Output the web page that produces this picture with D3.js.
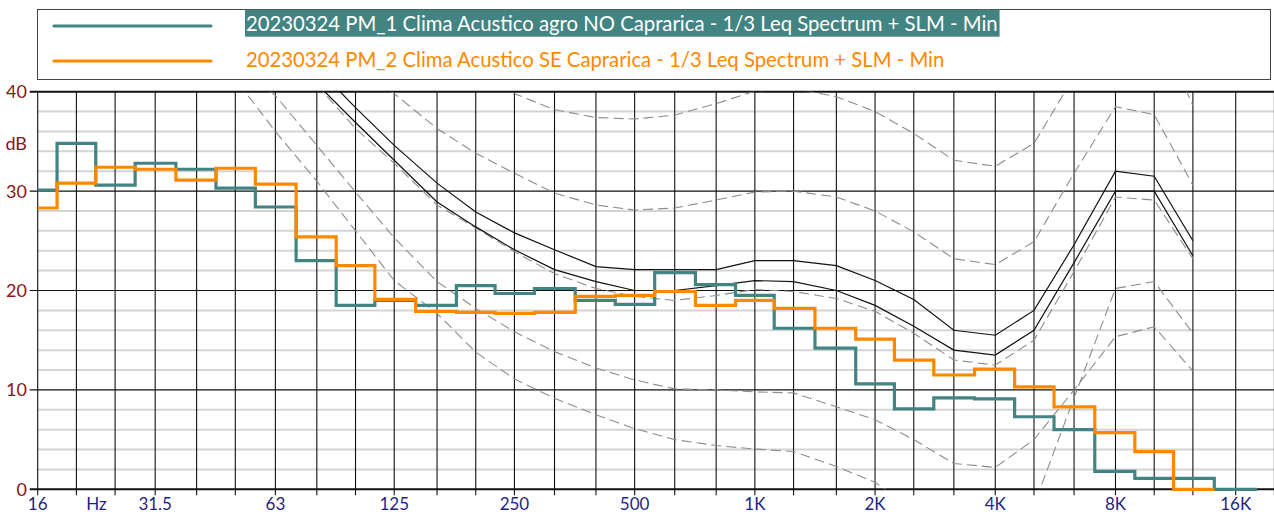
<!DOCTYPE html>
<html>
<head>
<meta charset="utf-8">
<script src="https://cdn.jsdelivr.net/npm/d3@7"></script>
<style>
  body { margin: 0; background: #fff; }
  svg { display: block; }
</style>
</head>
<body>
<div id="viz"></div>
<script>
// third octave bands, 16 Hz .. 16 kHz
const bands = [16, 20, 25, 31.5, 40, 50, 63, 80, 100, 125, 160, 200, 250, 315, 400, 500, 630, 800,
  1000, 1250, 1600, 2000, 2500, 3150, 4000, 5000, 6300, 8000, 10000, 12500, 16000];
const tickFreqs = [16, 31.5, 63, 125, 250, 500, 1000, 2000, 4000, 8000, 16000];
const tickLabels = ["16", "31.5", "63", "125", "250", "500", "1K", "2K", "4K", "8K", "16K"];
const yTicks = [0, 10, 20, 30, 40];
const seriesNames = [
  "20230324 PM_1 Clima Acustico agro NO Caprarica - 1/3 Leq Spectrum + SLM - Min",
  "20230324 PM_2 Clima Acustico SE Caprarica - 1/3 Leq Spectrum + SLM - Min"
];

// measured spectra (dB)
const pm1 = [30.1, 34.8, 30.6, 32.8, 32.2, 30.3, 28.4, 23.0, 18.5, 19.0, 18.5, 20.5, 19.7, 20.2, 19.0, 18.6,
  21.8, 20.6, 19.5, 16.2, 14.2, 10.6, 8.1, 9.2, 9.1, 7.3, 6.0, 1.8, 1.1, 1.1, -1];
const pm2 = [28.3, 30.8, 32.4, 32.2, 31.1, 32.3, 30.7, 25.4, 22.5, 19.1, 17.9, 17.8, 17.7, 17.8, 19.4, 19.5,
  19.9, 18.5, 19.0, 18.2, 16.2, 15.1, 13.0, 11.5, 12.1, 10.3, 8.3, 5.7, 3.8, -1, null];

// reference curves
const refSolid1 = [null, null, null, null, null, null, 47, 42.4, 38.4, 34.6, 30.8, 27.9, 25.8, 24.1, 22.4, 22.1,
  22.1, 22.1, 23.0, 23.0, 22.5, 21.0, 19.1, 16.0, 15.5, 18.0, 24.6, 32.0, 31.5, 25.0, null];
const refSolid2 = [null, null, null, null, null, null, 45, 40.8, 36.9, 33.1, 28.9, 26.4, 24.1, 22.1, 20.9, 20.0,
  20.0, 20.5, 21.0, 20.9, 20.0, 18.5, 16.4, 14.0, 13.5, 16.0, 22.8, 30.0, 30.0, 23.5, null];
const refDash1 = [null, null, null, null, null, null, null, null, null, null, null, 42.5, 39.8, 38.2, 37.4, 37.25,
  37.65, 38.8, 40.05, 40.3, 39.5, 38.0, 35.8, 33.1, 32.5, 34.8, 41.5, 48, 47.5, 38.6, null];
const refDash2 = [null, null, null, null, null, null, null, null, 43, 39.8, 36.3, 33.8, 31.8, 29.8, 28.6, 28.1,
  28.3, 29.1, 29.9, 30.0, 29.4, 28.0, 25.9, 23.2, 22.6, 24.9, 31.8, 38.5, 37.7, 30.6, null];
const refDash3 = [null, null, null, null, null, null, 45, 40.7, 36.3, 32.8, 28.6, 26.3, 23.9, 21.7, 20.2, 19.4,
  19.0, 19.5, 20.1, 19.9, 19.2, 17.9, 15.7, 13.0, 12.5, 15.0, 21.9, 29.4, 29.1, 23.2, null];
const refDash4 = [null, null, null, null, 47, 41.3, 36.0, 31.0, 26.0, 21.0, 17.7, 13.8, 11.1, 9.15, 7.5, 6.1,
  5.0, 4.4, 4.05, 3.8, 2.3, 0.7, -2, -5, -6, -1.6, 9.2, 20.2, 20.9, 15.7, null];
const refDash5 = [null, null, null, null, null, 43, 39.6, 34.6, 29.9, 25.3, 20.9, 18.2, 15.85, 13.85, 12.2, 11.0,
  10.1, 10.0, 9.8, 9.7, 8.3, 7.0, 5.0, 2.6, 2.2, 5.0, 10.0, 15.35, 16.35, 11.9, null];

const width = 1274, height = 515;
const plotL = 37.7, plotR = 1274, plotT = 91.7, plotB = 489.3;
const teal = "#428482", orange = "#ff8800";
const font = "Lato, 'Open Sans', sans-serif";

const svg = d3.select("#viz").append("svg")
  .attr("width", width)
  .attr("height", height);

const x = d3.scaleLog().domain([16, 16000]).range([plotL, 1235.7]);
const y = d3.scaleLinear().domain([0, 40]).range([plotB, plotT]).clamp(true);
const yFree = d3.scaleLinear().domain([0, 40]).range([plotB, plotT]);

svg.append("clipPath").attr("id", "plotclip")
  .append("rect")
  .attr("x", plotL).attr("y", plotT)
  .attr("width", plotR - plotL).attr("height", plotB - plotT);
svg.append("clipPath").attr("id", "stepclip")
  .append("rect")
  .attr("x", plotL).attr("y", plotT - 2)
  .attr("width", plotR - plotL).attr("height", plotB - plotT + 4);

// horizontal grid
let minor = d3.range(2, 40, 2).filter((d) => d % 10 !== 0);
svg.append("g").selectAll("line")
  .data(minor)
  .join("line")
  .attr("x1", plotL).attr("x2", plotR)
  .attr("y1", (d) => y(d)).attr("y2", (d) => y(d))
  .attr("stroke", "#d4d4d4")
  .attr("stroke-width", 2);

// vertical grid (also tick marks below the axis)
let gridFreqs = bands.concat([20000]);
svg.append("g").selectAll("line")
  .data(gridFreqs)
  .join("line")
  .attr("x1", (d) => x(d)).attr("x2", (d) => x(d))
  .attr("y1", plotT).attr("y2", plotB + 6)
  .attr("stroke", "#111")
  .attr("stroke-width", 1.1);

svg.append("g").selectAll("line")
  .data(yTicks)
  .join("line")
  .attr("x1", plotL - 8).attr("x2", plotR)
  .attr("y1", (d) => y(d)).attr("y2", (d) => y(d))
  .attr("stroke", "#111")
  .attr("stroke-width", (d) => (d === 0 || d === 40 ? 2 : 1.1));

// y labels
svg.append("g").selectAll("text")
  .data(yTicks)
  .join("text")
  .attr("x", 27)
  .attr("y", (d) => y(d) + 6.5)
  .attr("text-anchor", "end")
  .attr("font-family", font)
  .attr("font-size", 18)
  .attr("fill", "#8b1414")
  .text((d) => d);
svg.append("text")
  .attr("x", 27).attr("y", 149.5)
  .attr("text-anchor", "end")
  .attr("font-family", font)
  .attr("font-size", 18)
  .attr("fill", "#8b1414")
  .text("dB");

// x labels
svg.append("g").selectAll("text")
  .data(tickFreqs)
  .join("text")
  .attr("x", (d) => x(d))
  .attr("y", 510)
  .attr("text-anchor", "middle")
  .attr("font-family", font)
  .attr("font-size", 17)
  .attr("fill", "#1f1f86")
  .text((d, i) => tickLabels[i]);
svg.append("text")
  .attr("x", x(Math.sqrt(16 * 31.5)))
  .attr("y", 510)
  .attr("text-anchor", "middle")
  .attr("font-family", font)
  .attr("font-size", 17)
  .attr("fill", "#1f1f86")
  .text("Hz");

// reference curves
let refLine = d3.line()
  .defined((d) => d !== null)
  .x((d, i) => x(bands[i]))
  .y((d) => yFree(d));
let refs = [
  { data: refDash1, dash: true }, { data: refDash2, dash: true }, { data: refDash3, dash: true },
  { data: refDash4, dash: true }, { data: refDash5, dash: true },
  { data: refSolid1, dash: false }, { data: refSolid2, dash: false }
];
let refG = svg.append("g").attr("clip-path", "url(#plotclip)");
refs.forEach((r) => {
  refG.append("path")
    .datum(r.data)
    .attr("d", refLine)
    .attr("fill", "none")
    .attr("stroke", r.dash ? "#8c8c8c" : "#111")
    .attr("stroke-width", r.dash ? 1.1 : 1.2)
    .attr("stroke-dasharray", r.dash ? "10,5" : null);
});

// step spectra
function stepPoints(values) {
  let pts = [];
  values.forEach((v, i) => {
    if (v === null) return;
    let f = bands[i];
    let lo = i === 0 ? f / Math.sqrt(bands[1] / f) : Math.sqrt(bands[i - 1] * f);
    let hi = i === bands.length - 1 ? f * Math.sqrt(f / bands[i - 1]) : Math.sqrt(f * bands[i + 1]);
    pts.push([lo, v], [hi, v]);
  });
  return pts;
}
let stepLine = d3.line()
  .x((d) => x(d[0]))
  .y((d) => y(d[1]));
let stepG = svg.append("g").attr("clip-path", "url(#stepclip)");
[[pm1, teal], [pm2, orange]].forEach(([vals, col]) => {
  stepG.append("path")
    .datum(stepPoints(vals))
    .attr("d", stepLine)
    .attr("fill", "none")
    .attr("stroke", col)
    .attr("stroke-width", 3.2)
    .attr("stroke-linejoin", "miter");
});

// legend
let lg = svg.append("g");
lg.append("rect")
  .attr("x", 37.5).attr("y", 9.5)
  .attr("width", 1233).attr("height", 70)
  .attr("fill", "none")
  .attr("stroke", "#444")
  .attr("stroke-width", 1);
let t1 = lg.append("text")
  .attr("x", 246).attr("y", 30.5)
  .attr("font-family", font)
  .attr("font-size", 18)
  .text(seriesNames[0]);
let fs = 18 * 752 / t1.node().getComputedTextLength();
t1.attr("font-size", fs);
let w1 = t1.node().getComputedTextLength();
lg.insert("rect", "text")
  .attr("x", 245).attr("y", 9.5)
  .attr("width", w1 + 3).attr("height", 27.2)
  .attr("fill", teal);
t1.attr("fill", "#fff");
lg.append("text")
  .attr("x", 246).attr("y", 67)
  .attr("font-family", font)
  .attr("font-size", fs)
  .attr("fill", orange)
  .text(seriesNames[1]);
lg.selectAll("line")
  .data([[26, teal], [61, orange]])
  .join("line")
  .attr("x1", 54).attr("x2", 211)
  .attr("y1", (d) => d[0]).attr("y2", (d) => d[0])
  .attr("stroke", (d) => d[1])
  .attr("stroke-width", 3.2)
  .attr("stroke-linecap", "round");
</script>
</body>
</html>
